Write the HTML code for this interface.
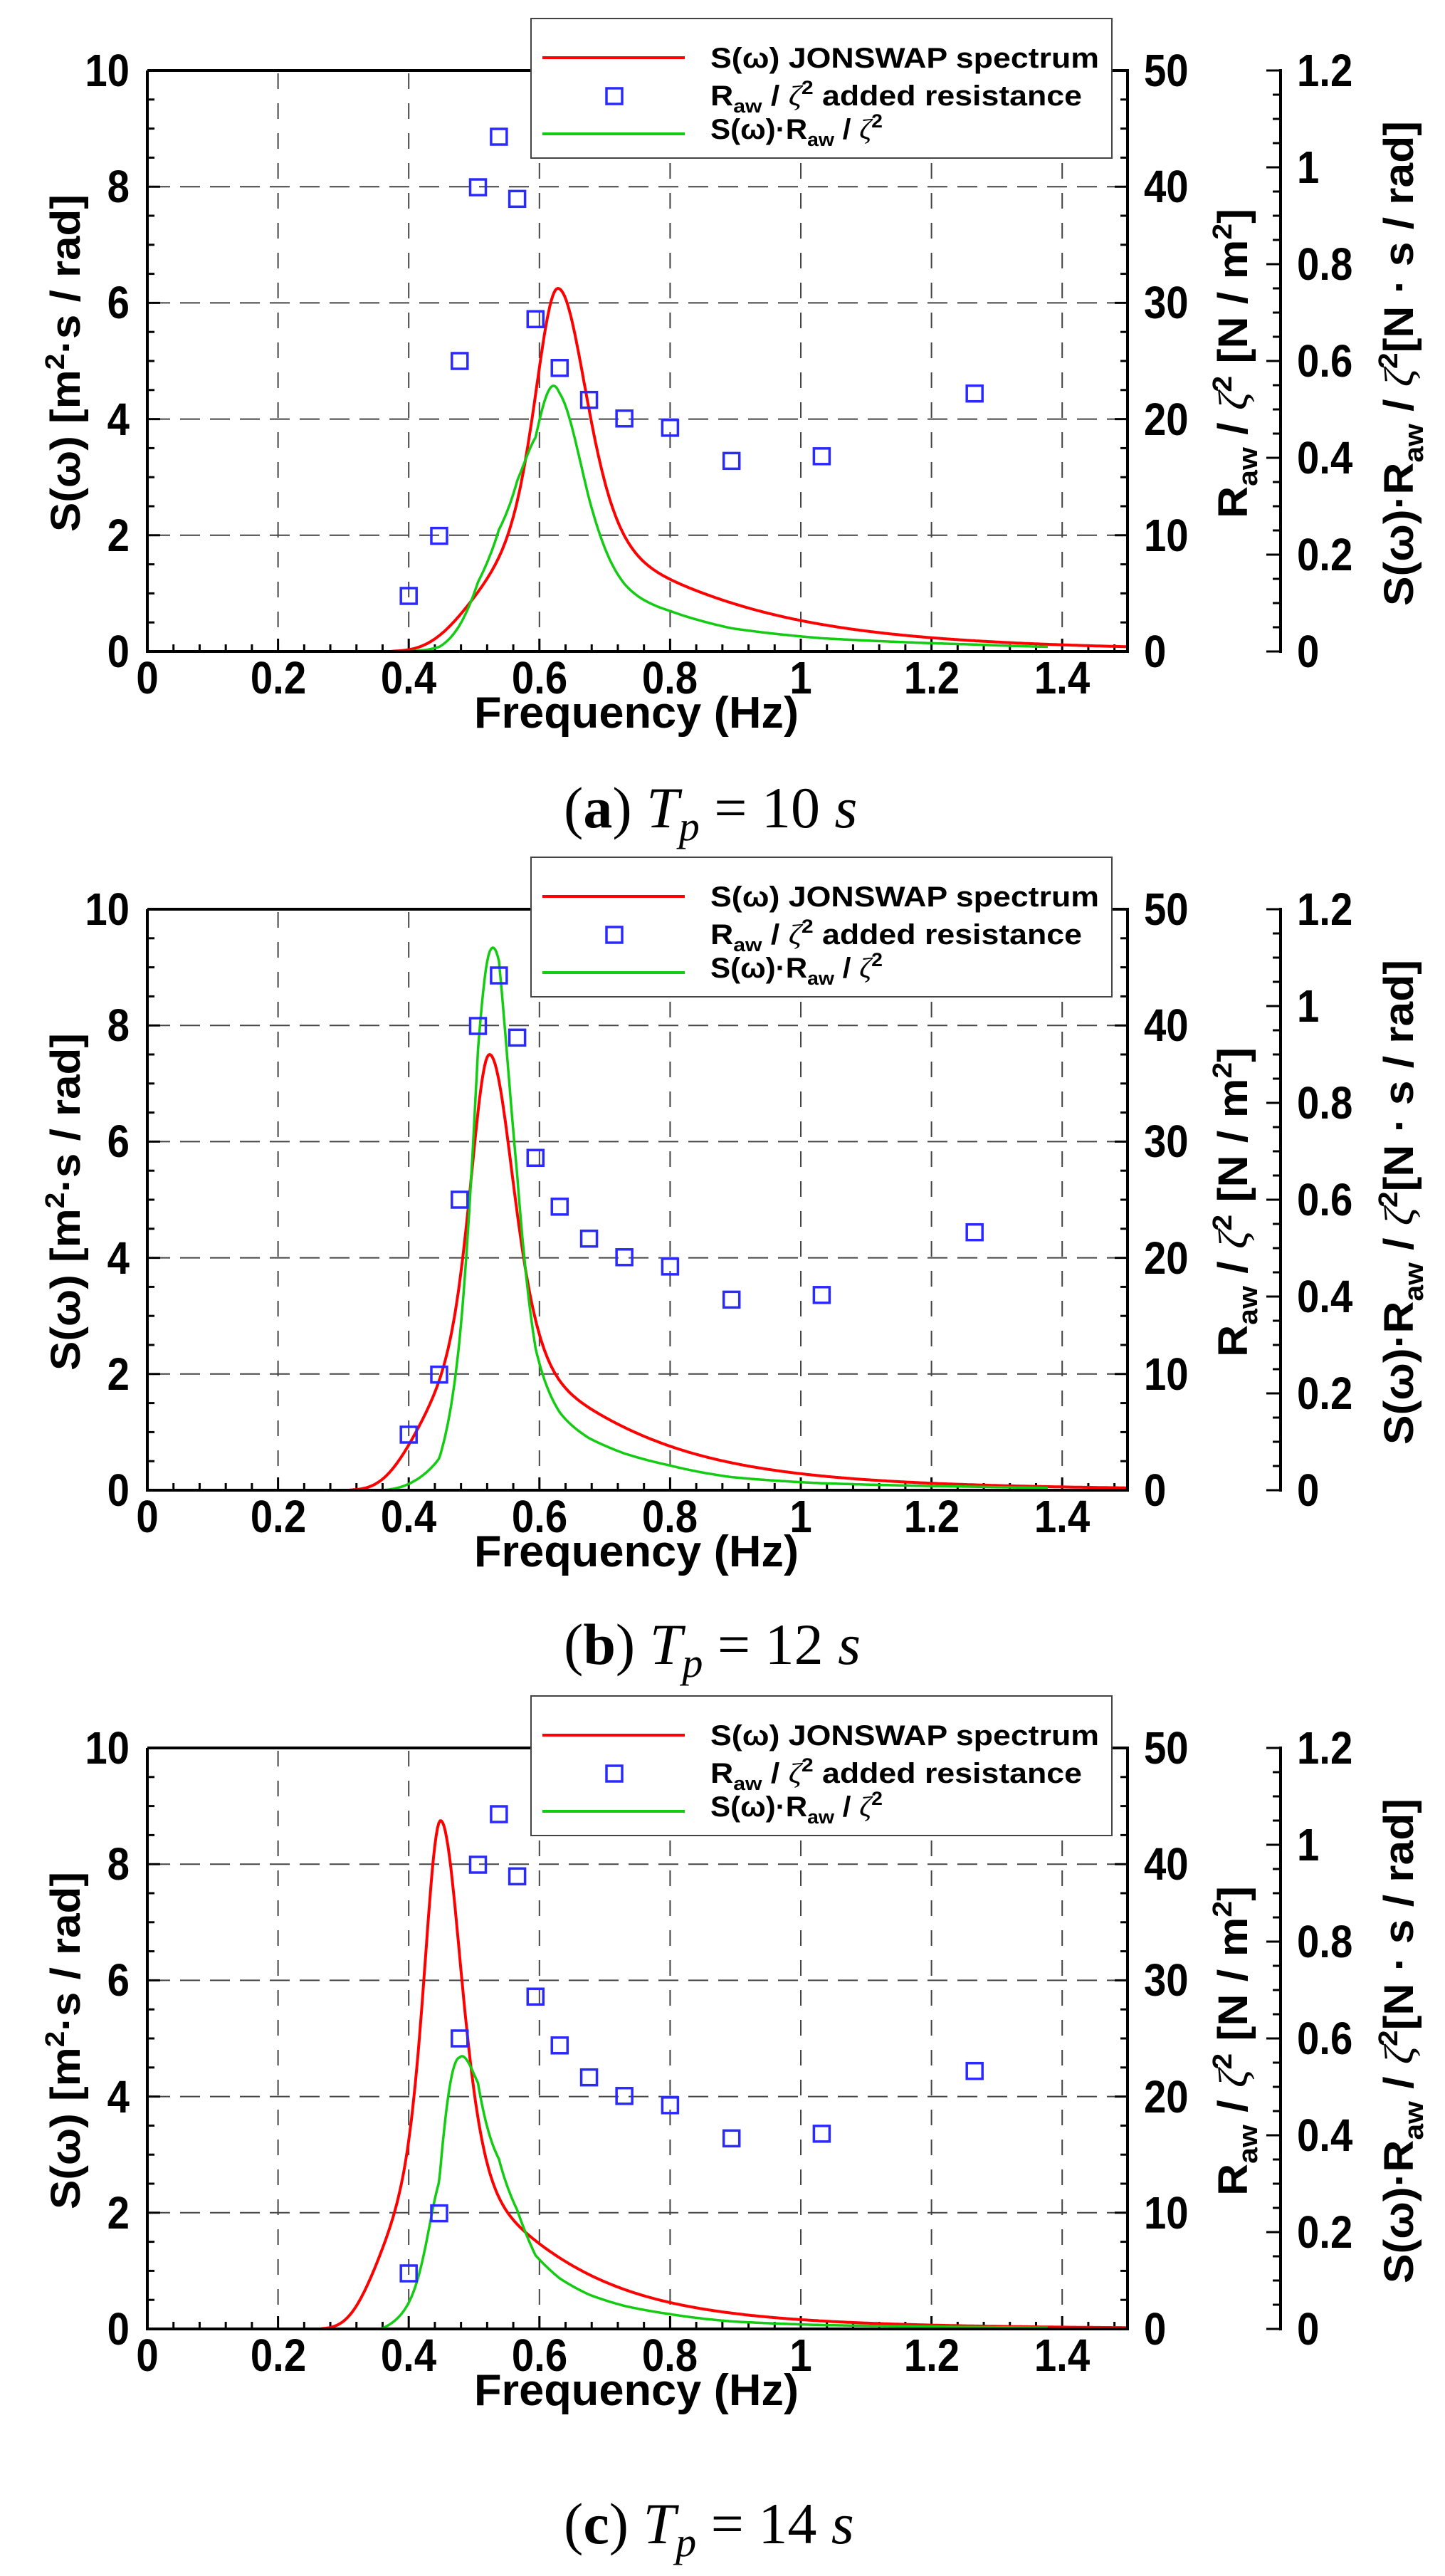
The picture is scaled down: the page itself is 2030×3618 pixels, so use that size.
<!DOCTYPE html>
<html><head><meta charset="utf-8">
<style>
html,body{margin:0;padding:0;background:#fff;}
svg{display:block;}
.t{font-family:"Liberation Sans",Arial,sans-serif;font-weight:bold;font-size:62px;fill:#000;}
.lg{font-family:"Liberation Sans",Arial,sans-serif;font-weight:bold;font-size:40px;fill:#000;white-space:pre;}
.ax{font-family:"Liberation Sans",Arial,sans-serif;font-weight:bold;font-size:58px;fill:#000;}
.cap{font-family:"Liberation Serif","DejaVu Serif",serif;font-size:82px;fill:#000;white-space:pre;}
</style></head><body>
<svg id="s" width="2030" height="3618" viewBox="0 0 2030 3618" xmlns="http://www.w3.org/2000/svg">
<rect width="2030" height="3618" fill="#fff"/>
<g id="p0"></g><g id="p1" transform="translate(0,1178)"></g><g id="p2" transform="translate(0,2356)"></g>

<g id="txt0">
<g class="t" text-anchor="end"><text x="182" y="121">10</text><text x="182" y="284">8</text><text x="182" y="447">6</text><text x="182" y="611">4</text><text x="182" y="774">2</text><text x="182" y="937">0</text></g>
<g class="t" text-anchor="middle"><text x="207" y="974">0</text><text x="391" y="974">0.2</text><text x="574" y="974">0.4</text><text x="758" y="974">0.6</text><text x="941" y="974">0.8</text><text x="1125" y="974">1</text><text x="1309" y="974">1.2</text><text x="1492" y="974">1.4</text></g>
<g class="t"><text x="1607" y="121">50</text><text x="1607" y="284">40</text><text x="1607" y="447">30</text><text x="1607" y="611">20</text><text x="1607" y="774">10</text><text x="1607" y="937">0</text></g>
<g class="t"><text x="1822" y="121">1.2</text><text x="1822" y="257">1</text><text x="1822" y="393">0.8</text><text x="1822" y="529">0.6</text><text x="1822" y="665">0.4</text><text x="1822" y="801">0.2</text><text x="1822" y="937">0</text></g>
<text class="t" x="894" y="1022" text-anchor="middle" textLength="456" lengthAdjust="spacingAndGlyphs">Frequency (Hz)</text>
<text class="ax" transform="translate(112,747) rotate(-90)" textLength="474" lengthAdjust="spacingAndGlyphs">S(ω) [m<tspan dy="-22" font-size="38">2</tspan><tspan dy="22">·s / rad]</tspan></text>
<text class="ax" transform="translate(1752,728) rotate(-90)" textLength="435" lengthAdjust="spacingAndGlyphs">R<tspan dy="14" font-size="38">aw</tspan><tspan dy="-14"> / </tspan><tspan font-family="Liberation Serif,serif" font-style="italic" font-weight="normal">ζ</tspan><tspan dy="-22" font-size="38">2</tspan><tspan dy="22"> [N / m</tspan><tspan dy="-22" font-size="38">2</tspan><tspan dy="22">]</tspan></text>
<text class="ax" transform="translate(1985,851) rotate(-90)" textLength="681" lengthAdjust="spacingAndGlyphs">S(ω)·R<tspan dy="14" font-size="38">aw</tspan><tspan dy="-14"> / </tspan><tspan font-family="Liberation Serif,serif" font-style="italic" font-weight="normal">ζ</tspan><tspan dy="-22" font-size="38">2</tspan><tspan dy="22">[N · s / rad]</tspan></text>
</g>
</svg>
<script>
(function(){
var NS="http://www.w3.org/2000/svg",svg=document.getElementById("s");
function el(p,n,a){var e=document.createElementNS(NS,n);for(var k in a)e.setAttribute(k,a[k]);p.appendChild(e);return e;}
function X(f){return 207+f*918;}
function Y(v){return 99+(10-v)*81.6;}
var mk=[[0.400,0.956],[0.4466,1.99],[0.478,5.0],[0.506,7.99],[0.538,8.86],[0.566,7.79],[0.594,5.72],[0.631,4.88],[0.676,4.33],[0.730,4.01],[0.800,3.85],[0.894,3.28],[1.032,3.36],[1.266,4.44]];
function R(w){var n=mk.length;
 if(w<=mk[0][0]){var s=(mk[1][1]-mk[0][1])/(mk[1][0]-mk[0][0]);return Math.max(0,(mk[0][1]+s*(w-mk[0][0]))*5);}
 if(w>=mk[n-1][0])return mk[n-1][1]*5;
 for(var i=0;i<n-1;i++){if(w<=mk[i+1][0]){var t=(w-mk[i][0])/(mk[i+1][0]-mk[i][0]);return (mk[i][1]+t*(mk[i+1][1]-mk[i][1]))*5;}}}
var cfg=[[10,6.25],[12,7.5],[14,8.75]];
var txt=document.getElementById("txt0");
for(var p=0;p<3;p++){
 var g=document.getElementById("p"+p);
 var gs={stroke:"#444","stroke-width":2,"stroke-dasharray":"28 14",fill:"none"};
 for(var v=2;v<=8;v+=2){var a=Object.assign({},gs,{x1:211,x2:1580,y1:Y(v),y2:Y(v)});el(g,"line",a);}
 for(var f=0.2;f<1.45;f+=0.2){var a=Object.assign({},gs,{"stroke-dasharray":"22 20",x1:X(f),x2:X(f),y1:103,y2:911});el(g,"line",a);}
 var tk={stroke:"#000","stroke-width":3};
 for(var i=0;i<=20;i++){var v=i*0.5,L=(i%4==0)?18:10;
  el(g,"line",Object.assign({},tk,{x1:207,x2:207+L,y1:Y(v),y2:Y(v)}));
  el(g,"line",Object.assign({},tk,{x1:1584,x2:1584-L,y1:Y(v),y2:Y(v)}));}
 for(var i=0;i<=24;i++){var y=915-i*816/24,L=(i%4==0)?20:11;
  el(g,"line",Object.assign({},tk,{x1:1799,x2:1799-L,y1:y,y2:y}));}
 for(var i=0;i<=37;i++){var f=i*0.04,L=(i%5==0)?18:10;
  el(g,"line",Object.assign({},tk,{x1:X(f),x2:X(f),y1:915,y2:915-L}));}
 var Tp=cfg[p][0],pk=cfg[p][1],wp=2*Math.PI/Tp;
 function J(w){var s=w<=wp?0.07:0.09;var r=Math.exp(-Math.pow(w-wp,2)/(2*s*s*wp*wp));
  return Math.pow(w,-5)*Math.exp(-1.25*Math.pow(wp/w,4))*Math.pow(3.3,r);}
 var mx=0;for(var w=0.2;w<=1.5;w+=0.0005){mx=Math.max(mx,J(w));}
 var dr="",dg="";
 for(var w=0.2;w<=1.5001;w+=0.002){var S=J(w)/mx*pk;
  if(S>0.004){dr+=(dr?"L":"M")+X(w).toFixed(1)+" "+Y(S).toFixed(1);}
  var G=S*R(w)*0.0035*10/1.2;
  if(G>0.004&&w<=1.38){dg+=(dg?"L":"M")+X(w).toFixed(1)+" "+Y(G).toFixed(1);}}
 el(g,"path",{d:dr,stroke:"#ff0000","stroke-width":4,fill:"none","stroke-linejoin":"round"});
 el(g,"path",{d:dg,stroke:"#11cc11","stroke-width":3.5,fill:"none","stroke-linejoin":"round"});
 for(var i=0;i<mk.length;i++){el(g,"rect",{x:X(mk[i][0])-11,y:Y(mk[i][1])-11,width:22,height:22,fill:"none",stroke:"#2a2aff","stroke-width":3.5});}
 var ax={stroke:"#000","stroke-width":4,fill:"none"};
 el(g,"path",Object.assign({},ax,{d:"M207 99V915H1584V99H207"}));
 el(g,"line",Object.assign({},ax,{x1:1799,x2:1799,y1:97,y2:917}));
 el(g,"rect",{x:746,y:26,width:816,height:196,fill:"#fff",stroke:"#444","stroke-width":2});
 el(g,"line",{x1:762,x2:962,y1:81,y2:81,stroke:"#ff0000","stroke-width":4});
 el(g,"rect",{x:852,y:124,width:22,height:22,fill:"none",stroke:"#2a2aff","stroke-width":3.5});
 el(g,"line",{x1:762,x2:962,y1:188,y2:188,stroke:"#11cc11","stroke-width":4});
 var c=txt.cloneNode(true);c.removeAttribute("id");g.appendChild(c);
 var ts=c.querySelectorAll("g.t text");
 for(var j=0;j<ts.length;j++){var t=ts[j],x=+t.getAttribute("x"),y=+t.getAttribute("y");
  t.setAttribute("transform","translate("+x+","+y+") scale(0.88,1) translate("+(-x)+","+(-y)+")");
  t.setAttribute("font-size","64");}
}
txt.parentNode.removeChild(txt);
})();
</script>
<div style="position:absolute;left:0;top:0;width:2030px;height:3618px;pointer-events:none;">
<svg width="2030" height="3618" xmlns="http://www.w3.org/2000/svg" style="position:absolute;left:0;top:0">
<g class="lg">
<text x="998" y="95" textLength="546" lengthAdjust="spacingAndGlyphs">S(ω)  JONSWAP spectrum</text>
<text x="998" y="148" textLength="522" lengthAdjust="spacingAndGlyphs">R<tspan dy="10" font-size="27">aw</tspan><tspan dy="-10"> / </tspan><tspan font-family="Liberation Serif,serif" font-style="italic" font-weight="normal">ζ</tspan><tspan dy="-16" font-size="27">2</tspan><tspan dy="16">  added resistance</tspan></text>
<text x="998" y="195" textLength="242" lengthAdjust="spacingAndGlyphs">S(ω)·R<tspan dy="10" font-size="27">aw</tspan><tspan dy="-10"> / </tspan><tspan font-family="Liberation Serif,serif" font-style="italic" font-weight="normal">ζ</tspan><tspan dy="-16" font-size="27">2</tspan></text>
</g>
<g class="lg" transform="translate(0,1178)">
<text x="998" y="95" textLength="546" lengthAdjust="spacingAndGlyphs">S(ω)  JONSWAP spectrum</text>
<text x="998" y="148" textLength="522" lengthAdjust="spacingAndGlyphs">R<tspan dy="10" font-size="27">aw</tspan><tspan dy="-10"> / </tspan><tspan font-family="Liberation Serif,serif" font-style="italic" font-weight="normal">ζ</tspan><tspan dy="-16" font-size="27">2</tspan><tspan dy="16">  added resistance</tspan></text>
<text x="998" y="195" textLength="242" lengthAdjust="spacingAndGlyphs">S(ω)·R<tspan dy="10" font-size="27">aw</tspan><tspan dy="-10"> / </tspan><tspan font-family="Liberation Serif,serif" font-style="italic" font-weight="normal">ζ</tspan><tspan dy="-16" font-size="27">2</tspan></text>
</g>
<g class="lg" transform="translate(0,2356)">
<text x="998" y="95" textLength="546" lengthAdjust="spacingAndGlyphs">S(ω)  JONSWAP spectrum</text>
<text x="998" y="148" textLength="522" lengthAdjust="spacingAndGlyphs">R<tspan dy="10" font-size="27">aw</tspan><tspan dy="-10"> / </tspan><tspan font-family="Liberation Serif,serif" font-style="italic" font-weight="normal">ζ</tspan><tspan dy="-16" font-size="27">2</tspan><tspan dy="16">  added resistance</tspan></text>
<text x="998" y="195" textLength="242" lengthAdjust="spacingAndGlyphs">S(ω)·R<tspan dy="10" font-size="27">aw</tspan><tspan dy="-10"> / </tspan><tspan font-family="Liberation Serif,serif" font-style="italic" font-weight="normal">ζ</tspan><tspan dy="-16" font-size="27">2</tspan></text>
</g>
<g class="cap">
<text x="792" y="1162">(<tspan font-weight="bold">a</tspan>)  <tspan font-style="italic">T</tspan><tspan font-style="italic" dy="18" font-size="58">p</tspan><tspan dy="-18"> = 10 </tspan><tspan font-style="italic">s</tspan></text>
<text x="792" y="2337">(<tspan font-weight="bold">b</tspan>)  <tspan font-style="italic">T</tspan><tspan font-style="italic" dy="18" font-size="58">p</tspan><tspan dy="-18"> = 12 </tspan><tspan font-style="italic">s</tspan></text>
<text x="792" y="3572">(<tspan font-weight="bold">c</tspan>)  <tspan font-style="italic">T</tspan><tspan font-style="italic" dy="18" font-size="58">p</tspan><tspan dy="-18"> = 14 </tspan><tspan font-style="italic">s</tspan></text>
</g>
</svg>
</div>
</body></html>
